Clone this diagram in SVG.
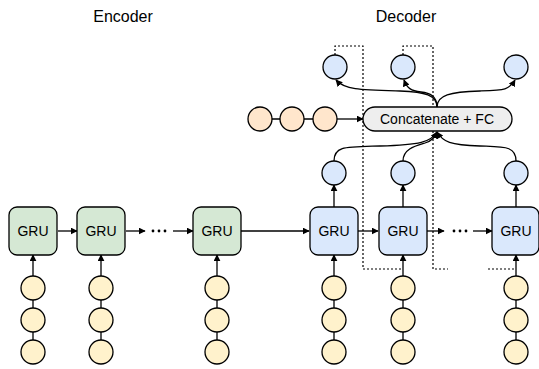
<svg xmlns="http://www.w3.org/2000/svg" width="539" height="369" viewBox="0 0 539 369">
<defs>
<marker id="ah" viewBox="0 0 10 10" refX="9" refY="5" markerWidth="7" markerHeight="7" markerUnits="userSpaceOnUse" orient="auto"><path d="M0,0 L10,5 L0,10 Z" fill="#000"/></marker>
</defs>
<style>
.gru-e{fill:#d5e8d4;stroke:#000;stroke-width:1.3}
.gru-d{fill:#dae8fc;stroke:#000;stroke-width:1.3}
.in{fill:#fff2cc;stroke:#000;stroke-width:1.3}
.out{fill:#dae8fc;stroke:#000;stroke-width:1.3}
.ctx{fill:#ffe6cc;stroke:#000;stroke-width:1.3}
.fc{fill:#eeeeee;stroke:#000;stroke-width:1.3}
.t{font-family:"Liberation Sans",Arial,sans-serif;font-size:14px;fill:#000;text-anchor:middle}
.lbl{font-family:"Liberation Sans",Arial,sans-serif;font-size:16px;fill:#000;text-anchor:middle}
.e{fill:none;stroke:#000;stroke-width:1.3}
.a{fill:none;stroke:#000;stroke-width:1.3;marker-end:url(#ah)}
.d{fill:none;stroke:#000;stroke-width:1.2;stroke-dasharray:2 2}
.dot{fill:#000}
</style>
<text class="lbl" x="123" y="22">Encoder</text>
<text class="lbl" x="406" y="22">Decoder</text>

<g id="connectors">
<!-- encoder inputs -->
<path class="e" d="M33,300 V308 M33,332 V340"/>
<path class="a" d="M33,276 V255"/>
<path class="e" d="M101,300 V308 M101,332 V340"/>
<path class="a" d="M101,276 V255"/>
<path class="e" d="M217,300 V308 M217,332 V340"/>
<path class="a" d="M217,276 V255"/>
<!-- decoder inputs -->
<path class="e" d="M334,300 V308 M334,332 V340"/>
<path class="a" d="M334,276 V255"/>
<path class="e" d="M403,300 V308 M403,332 V340"/>
<path class="a" d="M403,276 V255"/>
<path class="e" d="M516,300 V308 M516,332 V340"/>
<path class="a" d="M516,276 V255"/>
<!-- horizontal chain -->
<path class="a" d="M58,231 H77"/>
<path class="a" d="M126,231 H145"/>
<path class="a" d="M173,231 H193"/>
<path class="a" d="M241,231 H309"/>
<path class="a" d="M358,231 H378"/>
<path class="a" d="M427,231 H444"/>
<path class="a" d="M473,231 H492"/>
<!-- GRU to outputs -->
<path class="a" d="M334,207 V185"/>
<path class="a" d="M403,207 V185"/>
<path class="a" d="M516,207 V185"/>
<!-- outputs to FC -->
<path class="a" d="M334,161 C334,146 345,147 380,146 C420,145 431,142 437,132"/>
<path class="a" d="M403,161 C403,149 415,146 425,143 C432,141 435,138 437,132"/>
<path class="a" d="M516,161 C516,146 505,147 480,146 C450,145 443,142 437,132"/>
<!-- context -->
<path class="e" d="M272,119 H280 M304,119 H313"/>
<path class="a" d="M337,119 H363"/>
<!-- FC to top outputs -->
<path class="a" d="M437,107 C437,95 425,92 400,91 C360,90 345,90 336,80"/>
<path class="a" d="M437,107 C437,96 430,93 421,92 C411,91 407,88 404,80"/>
<path class="a" d="M437,107 C437,95 450,92 480,91 C505,90 509,90 515,80"/>
<!-- dashed feedback -->
<path class="d" d="M335,55 V46 H363 V269 H403"/>
<path class="d" d="M403,55 V46 H433 V269 H448"/>
<path class="d" d="M488,269 H516"/>
</g>

<g id="dots-enc"><circle class="dot" cx="153" cy="231" r="1.4"/><circle class="dot" cx="159" cy="231" r="1.4"/><circle class="dot" cx="165" cy="231" r="1.4"/></g>
<g id="dots-dec"><circle class="dot" cx="454" cy="231" r="1.4"/><circle class="dot" cx="460" cy="231" r="1.4"/><circle class="dot" cx="466" cy="231" r="1.4"/></g>

<g id="enc-gru1"><rect class="gru-e" x="9" y="207" width="48" height="48" rx="8"/><text class="t" x="33" y="236">GRU</text></g>
<g id="enc-gru2"><rect class="gru-e" x="77" y="207" width="48" height="48" rx="8"/><text class="t" x="101" y="236">GRU</text></g>
<g id="enc-gru3"><rect class="gru-e" x="193" y="207" width="48" height="48" rx="8"/><text class="t" x="217" y="236">GRU</text></g>
<g id="dec-gru1"><rect class="gru-d" x="310" y="207" width="48" height="48" rx="8"/><text class="t" x="334" y="236">GRU</text></g>
<g id="dec-gru2"><rect class="gru-d" x="379" y="207" width="48" height="48" rx="8"/><text class="t" x="403" y="236">GRU</text></g>
<g id="dec-gru3"><rect class="gru-d" x="492" y="207" width="47" height="48" rx="8"/><text class="t" x="516" y="236">GRU</text></g>

<g id="enc-in1"><circle class="in" cx="33" cy="288" r="12"/><circle class="in" cx="33" cy="320" r="12"/><circle class="in" cx="33" cy="352" r="12"/></g>
<g id="enc-in2"><circle class="in" cx="101" cy="288" r="12"/><circle class="in" cx="101" cy="320" r="12"/><circle class="in" cx="101" cy="352" r="12"/></g>
<g id="enc-in3"><circle class="in" cx="217" cy="288" r="12"/><circle class="in" cx="217" cy="320" r="12"/><circle class="in" cx="217" cy="352" r="12"/></g>
<g id="dec-in1"><circle class="in" cx="334" cy="288" r="12"/><circle class="in" cx="334" cy="320" r="12"/><circle class="in" cx="334" cy="352" r="12"/></g>
<g id="dec-in2"><circle class="in" cx="403" cy="288" r="12"/><circle class="in" cx="403" cy="320" r="12"/><circle class="in" cx="403" cy="352" r="12"/></g>
<g id="dec-in3"><circle class="in" cx="516" cy="288" r="12"/><circle class="in" cx="516" cy="320" r="12"/><circle class="in" cx="516" cy="352" r="12"/></g>

<g id="dec-out1"><circle class="out" cx="334" cy="173" r="12"/></g>
<g id="dec-out2"><circle class="out" cx="403" cy="173" r="12"/></g>
<g id="dec-out3"><circle class="out" cx="516" cy="173" r="12"/></g>

<g id="context"><circle class="ctx" cx="260" cy="119" r="12"/><circle class="ctx" cx="292" cy="119" r="12"/><circle class="ctx" cx="325" cy="119" r="12"/></g>

<g id="fc"><rect class="fc" x="363" y="107" width="149" height="24" rx="12"/><text class="t" x="437" y="124">Concatenate + FC</text></g>

<g id="top-out1"><circle class="out" cx="335" cy="67" r="12"/></g>
<g id="top-out2"><circle class="out" cx="403" cy="67" r="12"/></g>
<g id="top-out3"><circle class="out" cx="516" cy="67" r="12"/></g>
</svg>
